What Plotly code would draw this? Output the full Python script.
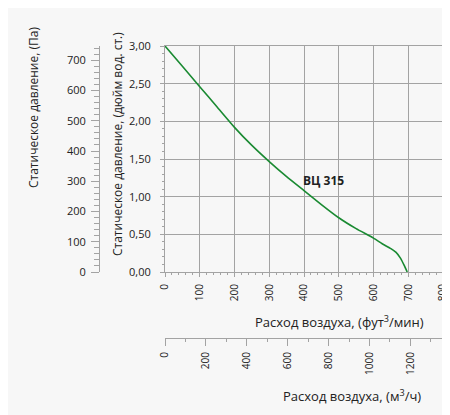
"""Fan curve for ВЦ 315 with dual unit axes."""

import plotly.graph_objects as go

# air flow, cfm
flow_cfm = [0, 50, 100, 150, 200, 250, 300, 350, 400, 450, 500, 550,
            600, 625, 650, 665, 678, 688, 697]
# static pressure, in. w.g.
pressure_inwg = [3.00, 2.73, 2.46, 2.19, 1.92, 1.68, 1.465, 1.265, 1.08,
                 0.895, 0.72, 0.575, 0.45, 0.375, 0.31, 0.26, 0.18, 0.09, 0.00]

fan_name = "ВЦ 315"
label_pos = (457, 1.22)

CFM_TO_M3H = 1.699
INWG_TO_PA = 249.09

FONT = "Open Sans, DejaVu Sans, sans-serif"
TEXT = "#222222"
GRID = "#a3a3a3"
BG = "#f7f7f7"

# the page body has an 8px margin, so the figure is 8px smaller each way
OFF = 8
W, H = 450 - OFF, 415 - OFF


def px(x):
    """Window pixel x -> paper fraction."""
    return (x - OFF) / W


def py(y):
    """Window pixel y (from top) -> paper fraction."""
    return (415 - y) / H


fig = go.Figure()

fig.add_trace(
    go.Scatter(
        x=flow_cfm,
        y=pressure_inwg,
        mode="lines",
        line=dict(color="#1a8a32", width=1.6, shape="spline", smoothing=0.5),
        hoverinfo="skip",
        showlegend=False,
    )
)

# same curve in metric units, invisible, so the metric axes get drawn
fig.add_trace(
    go.Scatter(
        x=[v * CFM_TO_M3H for v in flow_cfm],
        y=[v * INWG_TO_PA for v in pressure_inwg],
        xaxis="x2",
        yaxis="y2",
        mode="lines",
        line=dict(color="rgba(0,0,0,0)", width=0),
        hoverinfo="skip",
        showlegend=False,
    )
)

fig.add_annotation(
    x=label_pos[0], y=label_pos[1], xref="x", yref="y",
    text="<b>%s</b>" % fan_name, showarrow=False,
    xanchor="center", yanchor="middle",
    font=dict(size=12, color=TEXT),
)

axis_common = dict(
    showline=True,
    linecolor=GRID,
    linewidth=1,
    ticks="outside",
    tickcolor=GRID,
    tickfont=dict(size=11, color=TEXT),
    ticklabeloverflow="allow",
    zeroline=False,
    fixedrange=True,
    automargin=False,
)

fig.update_layout(
    width=W,
    height=H,
    margin=dict(l=0, r=0, t=0, b=0),
    paper_bgcolor=BG,
    plot_bgcolor=BG,
    font=dict(family=FONT, color=TEXT),
    separators=", ",
    showlegend=False,
    xaxis=dict(
        axis_common,
        domain=[px(165), px(443)],
        range=[0, 800],
        dtick=100,
        tickangle=-90,
        tickfont=dict(size=10, color=TEXT),
        ticklen=4,
        ticklabelstandoff=3,
        showgrid=True,
        gridcolor=GRID,
        gridwidth=1,
        mirror=True,
        minor=dict(dtick=20, ticks="outside", ticklen=2, tickcolor=GRID,
                   showgrid=False),
        anchor="y",
    ),
    yaxis=dict(
        axis_common,
        domain=[py(272), py(46)],
        range=[0, 3],
        dtick=0.5,
        tickformat=".2f",
        ticklen=4,
        ticklabelstandoff=7,
        showgrid=True,
        gridcolor=GRID,
        gridwidth=1,
        mirror=True,
        minor=dict(dtick=0.1, ticks="outside", ticklen=2, tickcolor=GRID,
                   showgrid=False),
        anchor="x",
    ),
    xaxis2=dict(
        axis_common,
        overlaying="x",
        anchor="free",
        position=py(338),
        side="bottom",
        range=[0, 800 * CFM_TO_M3H],
        dtick=200,
        tickangle=-90,
        tickfont=dict(size=10, color=TEXT),
        ticklen=7,
        ticklabelstandoff=2,
        showgrid=False,
        minor=dict(dtick=100, ticks="outside", ticklen=3, tickcolor=GRID),
    ),
    yaxis2=dict(
        axis_common,
        overlaying="y",
        anchor="free",
        position=px(99),
        side="left",
        range=[0, 3 * INWG_TO_PA],
        dtick=100,
        ticklen=8,
        ticklabelstandoff=3,
        showgrid=False,
        minor=dict(dtick=20, ticks="outside", ticklen=5, tickcolor=GRID),
    ),
)

# axis titles as annotations so they sit where the original has them
titles = [
    ("Расход воздуха, (фут<sup>3</sup>/мин)", 339, 321, 0, 13),
    ("Расход воздуха, (м<sup>3</sup>/ч)", 352, 395, 0, 13),
    ("Статическое давление, (Па)", 33, 108, -90, 12),
    ("Статическое давление, (дюйм вод. ст.)", 117, 144, -90, 12),
]
for text, tx, ty, angle, size in titles:
    fig.add_annotation(
        x=px(tx), y=py(ty), xref="paper", yref="paper",
        text=text, showarrow=False, textangle=angle,
        xanchor="center", yanchor="middle",
        font=dict(size=size, color=TEXT),
    )

fig.write_html("out.html")
